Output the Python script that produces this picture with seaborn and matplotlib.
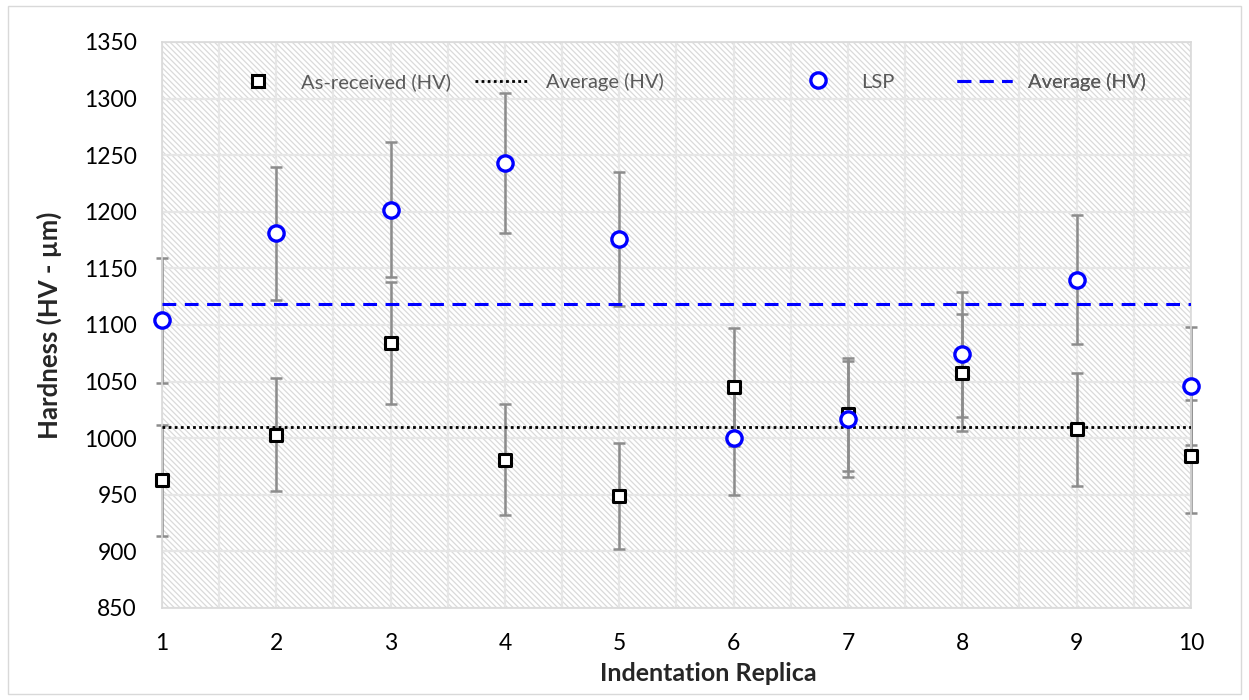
import numpy as np
import pandas as pd
import matplotlib.pyplot as plt
import seaborn as sns
from matplotlib.lines import Line2D
from matplotlib.patches import Rectangle
from matplotlib.ticker import MultipleLocator

# values
replica = [1, 2, 3, 4, 5, 6, 7, 8, 9, 10]
as_received = [963, 1003, 1084, 981, 949, 1045, 1021, 1058, 1008, 984]
as_received_err = [49, 50, 54, 49, 47, 52, 50, 52, 50, 50]
lsp = [1104, 1181, 1202, 1243, 1176, 1000, 1017, 1074, 1140, 1046]
lsp_err = [55, 59, 60, 62, 59, 50, 51, 55, 57, 52]
y_ticks = [850, 900, 950, 1000, 1050, 1100, 1150, 1200, 1250, 1300, 1350]
legend_labels = ["As-received (HV)", "Average (HV)", "LSP", "Average (HV)"]

df = pd.DataFrame({"replica": replica, "as_received": as_received, "lsp": lsp})

sns.set_theme(style="white")
plt.rcParams["font.family"] = ["Lato", "DejaVu Sans"]
plt.rcParams["hatch.linewidth"] = 0.9

W, H = 1249, 700
fig = plt.figure(figsize=(W / 100, H / 100), dpi=100)
ax = fig.add_axes([162 / W, 1 - 608 / H, (1191 - 162) / W, (608 - 42) / H])

# hatched plot area
ax.add_patch(Rectangle((0, 0), 1, 1, transform=ax.transAxes, facecolor="white",
                       edgecolor="#dadada", linewidth=0, hatch="\\\\\\\\\\\\", zorder=0.1))

# error bars
ax.errorbar(replica, as_received, yerr=as_received_err, fmt="none", ecolor="#8c8c8c",
            elinewidth=1.8, capsize=4, capthick=1.8, zorder=2, clip_on=False)
ax.errorbar(replica, lsp, yerr=lsp_err, fmt="none", ecolor="#8c8c8c",
            elinewidth=1.8, capsize=4, capthick=1.8, zorder=2, clip_on=False)

# average lines
ar_avg = np.mean(as_received)
lsp_avg = np.mean(lsp)
ax.axhline(ar_avg, color="black", ls=(0, (1, 1.2)), lw=2, zorder=3)
ax.axhline(lsp_avg, color="#0000ff", ls=(0, (4.5, 2.8)), lw=2.2, zorder=3)

# markers
sns.scatterplot(data=df, x="replica", y="as_received", marker="s", s=72,
                facecolor="white", edgecolor="black", linewidth=2.2,
                ax=ax, zorder=4, clip_on=False, legend=False)
sns.scatterplot(data=df, x="replica", y="lsp", marker="o", s=121,
                facecolor="white", edgecolor="#0000ff", linewidth=2.4,
                ax=ax, zorder=5, clip_on=False, legend=False)

ax.set_xlim(1, 10)
ax.set_ylim(850, 1350)
ax.set_xticks(replica)
ax.set_yticks(y_ticks)
ax.xaxis.set_minor_locator(MultipleLocator(0.5))
ax.grid(which="both", axis="x", color="#e6e6e6", lw=1.6)
ax.grid(which="major", axis="y", color="#e6e6e6", lw=1.6)
ax.set_axisbelow(True)
ax.tick_params(which="both", length=0)
ax.tick_params(axis="y", labelsize=16.5, pad=18, colors="black")
ax.tick_params(axis="x", labelsize=16.5, pad=18, colors="black")
for s in ax.spines.values():
    s.set_color("#d9d9d9")
    s.set_linewidth(1.2)

ax.set_xlabel("Indentation Replica", fontsize=18, fontweight="bold", labelpad=6)
ax.xaxis.label.set_x(0.531)
ax.set_ylabel("Hardness (HV - µm)", fontsize=18.5, fontweight="bold", labelpad=16)

# legend entries placed like the original
handles = [
    Line2D([], [], marker="s", ls="none", markersize=8.5, markerfacecolor="white",
           markeredgecolor="black", markeredgewidth=2.2),
    Line2D([], [], color="black", ls=(0, (1, 1.2)), lw=2),
    Line2D([], [], marker="o", ls="none", markersize=11, markerfacecolor="white",
           markeredgecolor="#0000ff", markeredgewidth=2.4),
    Line2D([], [], color="#0000ff", ls=(0, (4.5, 2.8)), lw=2.2),
]
starts = [230, 475, 790, 957]
for h, lab, x0 in zip(handles, legend_labels, starts):
    leg = ax.legend([h], [lab], loc="center left", bbox_to_anchor=(x0 / W, 1 - 82 / H),
                    bbox_transform=fig.transFigure, frameon=False, borderpad=0,
                    borderaxespad=0, handlelength=2.75, handletextpad=0.8,
                    fontsize=14.5, labelcolor="#595959")
    ax.add_artist(leg)

fig.add_artist(Rectangle((8 / W, 6 / H), (1241 - 8) / W, (694 - 6) / H,
                         transform=fig.transFigure, fill=False,
                         edgecolor="#d9d9d9", lw=1))

fig.savefig("out.png", dpi=100)
